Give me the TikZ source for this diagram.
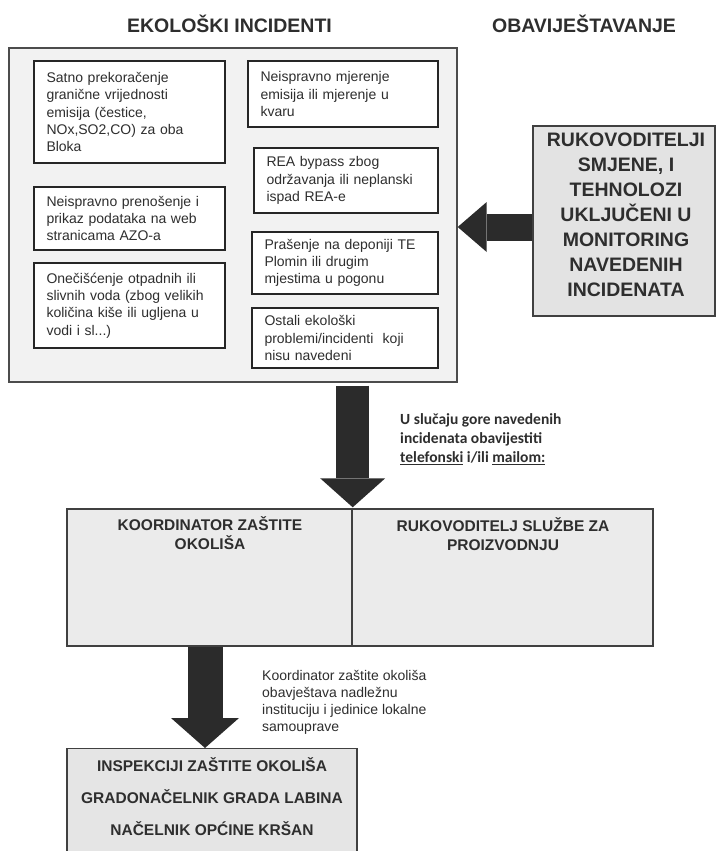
\documentclass[tikz,border=0pt]{standalone}
\usepackage{fontspec}
\setmainfont{Liberation Sans}
\newfontfamily\calib{Carlito}
\usetikzlibrary{arrows.meta}
\definecolor{txt}{HTML}{2E2E2E}
\definecolor{arr}{HTML}{2B2B2B}
\begin{document}
\begin{tikzpicture}[x=1pt,y=-1pt,
  title/.style={font=\bfseries\fontsize{19.5}{23}\selectfont, text=txt, inner sep=0pt},
  ibox/.style={draw=black!85, line width=1.6pt, fill=white, align=left, inner xsep=12.5pt, inner ysep=0pt,
     font=\fontsize{14}{17.3}\selectfont, text=txt},
  graybox/.style={draw=black!75, line width=1.4pt, inner sep=0pt},
  capstxt/.style={font=\bfseries\fontsize{15.5}{19}\selectfont, text=txt, align=center, inner sep=0pt},
  bigarrow/.style={draw=arr, line cap=butt}
]
\useasboundingbox (0,0) rectangle (716,851);
\clip (0,0) rectangle (716,851);
\fill[white] (0,0) rectangle (716,851);

% titles
\node[title] (t1) at (229.5,24) {EKOLOŠKI INCIDENTI};
\node[title] (t2) at (584,24) {OBAVIJEŠTAVANJE};

% outer box
\node[graybox, draw=black!70, fill=black!5, minimum width=448, minimum height=334] (outer) at (233,215) {};

% inner boxes
\node[ibox, minimum width=191, minimum height=102, text width=166] (b1) at (129.5,112)
  {Satno prekoračenje\\granične vrijednosti\\emisija (čestice,\\NOx,SO2,CO) za oba\\Bloka};
\node[ibox, minimum width=190, minimum height=66, text width=165] (b2) at (343,94)
  {Neispravno mjerenje\\emisija ili mjerenje u\\kvaru};
\node[ibox, minimum width=184, minimum height=65, text width=159] (b3) at (346,180.5)
  {REA bypass zbog\\održavanja ili neplanski\\ispad REA-e};
\node[ibox, minimum width=191, minimum height=63, text width=166] (b4) at (129.5,218.5)
  {Neispravno prenošenje i\\prikaz podataka na web\\stranicama AZO-a};
\node[ibox, minimum width=186, minimum height=62, text width=161] (b5) at (345,263)
  {Prašenje na deponiji TE\\Plomin ili drugim\\mjestima u pogonu};
\node[ibox, minimum width=191, minimum height=85, text width=166] (b6) at (129.5,305.5)
  {Onečišćenje otpadnih ili\\slivnih voda (zbog velikih\\količina kiše ili ugljena u\\vodi i sl...)};
\node[ibox, minimum width=186, minimum height=60, text width=161] (b7) at (345,338)
  {Ostali ekološki\\problemi/incidenti~ koji\\nisu navedeni};

% right box
\node[graybox, fill=black!11, minimum width=182, minimum height=190] (ruk) at (624,221) {};
\node[font=\bfseries\fontsize{19.5}{25}\selectfont, text=txt, align=center, inner sep=0pt] (rukt) at (626,215)
  {RUKOVODITELJI\\SMJENE, I\\TEHNOLOZI\\UKLJUČENI U\\MONITORING\\NAVEDENIH\\INCIDENATA};

% middle boxes
\node[graybox, fill=black!8, minimum width=285, minimum height=137] (midL) at (209.5,577.5) {};
\node[graybox, fill=black!8, minimum width=301, minimum height=137] (midR) at (502.5,577.5) {};
\node[capstxt] (midLt) at (210,533.5) {KOORDINATOR ZAŠTITE\\OKOLIŠA};
\node[capstxt] (midRt) at (503,534) {RUKOVODITELJ SLUŽBE ZA\\PROIZVODNJU};

% bottom box
\node[graybox, fill=black!10, minimum width=290, minimum height=130, anchor=north] (bot) at (212,748) {};
\node[capstxt, font=\bfseries\fontsize{15.5}{32}\selectfont] (bott) at (212,797)
  {INSPEKCIJI ZAŠTITE OKOLIŠA\\GRADONAČELNIK GRADA LABINA\\NAČELNIK OPĆINE KRŠAN};

% side texts
\node[anchor=west, align=left, inner sep=0pt, text=txt, font=\calib\bfseries\fontsize{15.5}{19}\selectfont] (note1) at (400,439.5)
  {U slučaju gore navedenih\\incidenata obavijestiti\\\underline{telefonski} i/ili \underline{mailom:}};
\node[anchor=west, align=left, inner sep=0pt, text=txt, font=\fontsize{14}{17}\selectfont] (note2) at (262,702.5)
  {Koordinator zaštite okoliša\\obavještava nadležnu\\instituciju i jedinice lokalne\\samouprave};

% arrows
\draw[bigarrow, line width=27pt, -{Triangle[length=29pt,width=50pt,line width=0pt]}]
  ([yshift=-6pt]ruk.west) -- ([yshift=-12pt]outer.east);
\draw[bigarrow, line width=33pt, -{Triangle[length=29pt,width=65pt,line width=0pt]}]
  ([yshift=-3pt]outer.south -| midL.east) -- ([yshift=1pt]midL.north east);
\draw[bigarrow, line width=35pt, -{Triangle[length=30pt,width=68pt,line width=0pt]}]
  ([xshift=-4.5pt]midL.south) -- ([xshift=-7pt]bot.north);
\end{tikzpicture}
\end{document}
